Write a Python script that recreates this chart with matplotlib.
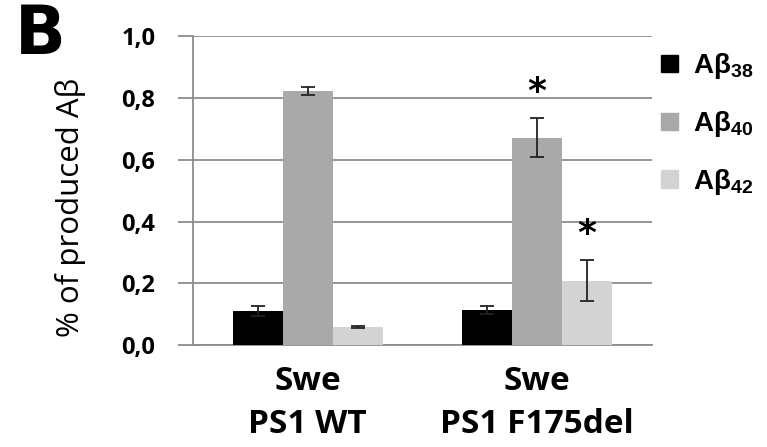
import matplotlib.pyplot as plt
from matplotlib.patches import Patch
import numpy as np

plt.rcParams['font.family'] = ['Open Sans', 'DejaVu Sans']
plt.rcParams['mathtext.fontset'] = 'custom'
plt.rcParams['mathtext.rm'] = 'Liberation Sans:bold'
plt.rcParams['mathtext.bf'] = 'Liberation Sans:bold'

groups = ['Swe\nPS1 WT', 'Swe\nPS1 F175del']
series = ['Aβ$_{38}$', 'Aβ$_{40}$', 'Aβ$_{42}$']
ab38 = [0.110, 0.113]
ab40 = [0.822, 0.672]
ab42 = [0.058, 0.209]
ab38_err = [0.017, 0.012]
ab40_err = [0.013, 0.062]
ab42_err = [0.003, 0.066]
stars = [(1, 1), (1, 2)]  # (group, series) marked significant
yticks = [0.0, 0.2, 0.4, 0.6, 0.8, 1.0]

colors = ['#000000', '#a9a9a9', '#d3d3d3']
values = [ab38, ab40, ab42]
errors = [ab38_err, ab40_err, ab42_err]

fig = plt.figure(figsize=(7.67, 4.47), dpi=100)
ax = fig.add_axes([0.2516, 0.228, 0.598, 0.691])

x = np.arange(len(groups))
w = 0.218
for i in range(3):
    ax.bar(x + (i - 1) * w, values[i], w, color=colors[i], zorder=3,
           yerr=errors[i], capsize=5,
           error_kw=dict(elinewidth=1.3, capthick=1.3, ecolor='#222222', zorder=4))

for g, s in stars:
    top = values[s][g] + errors[s][g]
    ax.text(x[g] + (s - 1) * w, top + 0.03, '*', ha='center', va='bottom',
            fontsize=26, fontweight='bold', family='DejaVu Sans')

ax.set_xlim(-0.5, 1.5)
ax.set_ylim(0, 1.0)
ax.set_yticks(yticks)
ax.set_yticklabels([f'{t:.1f}'.replace('.', ',') for t in yticks],
                   fontsize=17, fontweight='bold')
ax.yaxis.grid(True, color='#8c8c8c', linewidth=1.3, zorder=0)
ax.set_xticks(x)
ax.set_xticklabels(groups, fontsize=24, fontweight='bold', linespacing=1.4)
ax.tick_params(axis='x', length=0, pad=14)
ax.tick_params(axis='y', length=11, direction='out', color='#8c8c8c', width=1.3, pad=16)
for side in ['top', 'right']:
    ax.spines[side].set_visible(False)
ax.spines['left'].set_color('#8c8c8c')
ax.spines['left'].set_linewidth(1.3)
ax.spines['bottom'].set_color('#8c8c8c')
ax.spines['bottom'].set_linewidth(1.3)
ax.set_ylabel('% of produced Aβ', fontsize=22.5)
ax.yaxis.set_label_coords(-0.233, 0.445)

handles = [Patch(color=c) for c in colors]
fig.legend(handles, series, loc='upper left', bbox_to_anchor=(0.862, 0.885),
           borderpad=0, borderaxespad=0,
           frameon=False, prop=dict(family='Liberation Sans', size=20, weight='bold'),
           handlelength=0.6, handleheight=0.6, handletextpad=0.55, labelspacing=1.0)

fig.text(0.02, 0.995, 'B', fontsize=48, fontweight='bold', va='top', ha='left',
         family='DejaVu Sans')

fig.savefig('out.png', dpi=100)
